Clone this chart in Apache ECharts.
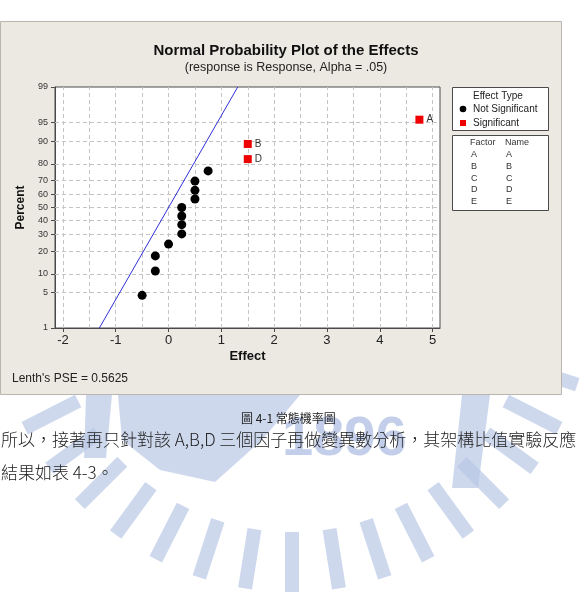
<!DOCTYPE html>
<html>
<head>
<meta charset="utf-8">
<script src="https://cdn.jsdelivr.net/npm/echarts@6/dist/echarts.min.js"></script>
<style>
  html, body { margin: 0; padding: 0; background: #fff; }
  #chart { width: 583px; height: 605px; }
</style>
</head>
<body>
<div id="chart"></div>
<script>
// effects, percent on the normal-probability scale
const notSigEffect = [-0.5, -0.25, -0.25, 0, 0.25, 0.25, 0.25, 0.25, 0.5, 0.5, 0.5, 0.75];
const notSigPct    = [4.5, 11, 17.5, 24, 30.5, 37, 43.5, 50, 56.5, 63, 69.5, 76];
const sigNames  = ['D', 'B', 'A'];
const sigEffect = [1.5, 1.5, 4.75];
const sigPct    = [82.5, 89, 95.5];
const refLineEffect = [-1.31, 1.31];
const refLinePct    = [1, 99];

const xTicks = [-2, -1, 0, 1, 2, 3, 4, 5];
const xGrid  = [-2, -1.5, -1, -0.5, 0, 0.5, 1, 1.5, 2, 2.5, 3, 3.5, 4, 4.5, 5];
const yTicks = [1, 5, 10, 20, 30, 40, 50, 60, 70, 80, 90, 95, 99];
const factors = ['A', 'B', 'C', 'D', 'E'];

// inverse normal cdf (Acklam) -> probability axis
function zOf(pct) {
  const p = pct / 100;
  const a = [-39.69683028665376, 220.9460984245205, -275.9285104469687, 138.3577518672690, -30.66479806614716, 2.506628277459239];
  const b = [-54.47609879822406, 161.5858368580409, -155.6989798598866, 66.80131188771972, -13.28068155288572];
  const c = [-0.007784894002430293, -0.3223964580411365, -2.400758276837607, -2.549671348254818, 4.374664141464968, 2.938163982698783];
  const d = [0.007784695709041462, 0.3224671290700398, 2.445134137142996, 3.754408661907416];
  const lo = 0.02425;
  if (p < lo) {
    const q = Math.sqrt(-2 * Math.log(p));
    return (((((c[0]*q+c[1])*q+c[2])*q+c[3])*q+c[4])*q+c[5]) / ((((d[0]*q+d[1])*q+d[2])*q+d[3])*q+1);
  }
  if (p > 1 - lo) {
    const q = Math.sqrt(-2 * Math.log(1 - p));
    return -(((((c[0]*q+c[1])*q+c[2])*q+c[3])*q+c[4])*q+c[5]) / ((((d[0]*q+d[1])*q+d[2])*q+d[3])*q+1);
  }
  const q = p - 0.5, r = q * q;
  return (((((a[0]*r+a[1])*r+a[2])*r+a[3])*r+a[4])*r+a[5])*q / (((((b[0]*r+b[1])*r+b[2])*r+b[3])*r+b[4])*r+1);
}

const yTickZ = yTicks.map(zOf);
const pctLabel = v => {
  const i = yTickZ.findIndex(z => Math.abs(z - v) < 1e-6);
  return i >= 0 ? String(yTicks[i]) : '';
};

const FONT = '"Liberation Sans", Arial, sans-serif';
const CJK = '"Noto Sans CJK TC", sans-serif';
const WM = '#b9c7e6';

// watermark behind the page text (decoration only)
const wmShapes = [];
for (let deg = 18; deg <= 162; deg += 9) {
  const t = deg * Math.PI / 180, cx = 292, cy = 292, r1 = 240, r2 = 300, w = 7;
  const dx = Math.cos(t), dy = Math.sin(t), nx = -dy, ny = dx;
  wmShapes.push({
    type: 'polygon', z: -20, silent: true,
    shape: { points: [
      [cx + r1*dx + w*nx, cy + r1*dy + w*ny], [cx + r2*dx + w*nx, cy + r2*dy + w*ny],
      [cx + r2*dx - w*nx, cy + r2*dy - w*ny], [cx + r1*dx - w*nx, cy + r1*dy - w*ny]] },
    style: { fill: WM, opacity: 0.7 }
  });
}
wmShapes.push(
  { type: 'polygon', z: -20, silent: true,
    shape: { points: [[118, 395], [300, 395], [262, 440], [215, 482], [160, 470], [122, 440]] },
    style: { fill: WM, opacity: 0.7 } },
  { type: 'polygon', z: -20, silent: true,
    shape: { points: [[86, 395], [112, 395], [106, 458], [84, 458]] },
    style: { fill: WM, opacity: 0.7 } },
  { type: 'polygon', z: -20, silent: true,
    shape: { points: [[462, 395], [490, 395], [478, 488], [452, 488]] },
    style: { fill: WM, opacity: 0.7 } }
);

const chart = echarts.init(document.getElementById('chart'));
chart.setOption({
  backgroundColor: '#ffffff',
  animation: false,
  textStyle: { fontFamily: FONT },
  title: {
    text: 'Normal Probability Plot of the Effects',
    subtext: '(response is Response, Alpha = .05)',
    left: 281, top: 38, textAlign: 'center', itemGap: 3,
    textStyle: { fontFamily: FONT, fontSize: 15, fontWeight: 'bold', color: '#111' },
    subtextStyle: { fontFamily: FONT, fontSize: 12.5, color: '#222' }
  },
  grid: {
    left: 55, top: 87, width: 385, height: 241,
    show: true, backgroundColor: '#ffffff', borderColor: '#4a4a4a', borderWidth: 1
  },
  xAxis: {
    type: 'value', min: -2.15, max: 5.14,
    name: 'Effect', nameLocation: 'middle', nameGap: 22,
    nameTextStyle: { fontFamily: FONT, fontSize: 13, fontWeight: 'bold', color: '#111' },
    axisLine: { onZero: false, lineStyle: { color: '#4a4a4a' } },
    axisTick: { customValues: xTicks, length: 4, lineStyle: { color: '#4a4a4a' } },
    axisLabel: { customValues: xTicks, margin: 6, fontSize: 13, color: '#222' },
    splitLine: { show: false }
  },
  yAxis: {
    type: 'value', min: zOf(1), max: zOf(99),
    name: 'Percent', nameLocation: 'middle', nameGap: 22,
    nameTextStyle: { fontFamily: FONT, fontSize: 12, fontWeight: 'bold', color: '#111' },
    axisLine: { onZero: false, lineStyle: { color: '#4a4a4a' } },
    axisTick: { customValues: yTickZ, length: 4, lineStyle: { color: '#4a4a4a' } },
    axisLabel: { customValues: yTickZ, formatter: pctLabel, margin: 7, fontSize: 9, color: '#333' },
    splitLine: { show: false }
  },
  series: [
    {
      name: 'ref', type: 'line', z: 3, symbol: 'none', clip: true,
      data: refLineEffect.map((x, i) => [x, zOf(refLinePct[i])]),
      lineStyle: { color: '#3030d8', width: 1 },
      markLine: {
        silent: true, symbol: 'none', z: 1, label: { show: false },
        lineStyle: { type: [4, 3], color: '#c4c4c4', width: 1 },
        data: xGrid.map(v => ({ xAxis: v }))
          .concat(yTicks.slice(1, -1).map(p => ({ yAxis: zOf(p) })))
      }
    },
    {
      name: 'Not Significant', type: 'scatter', z: 4, symbol: 'circle', symbolSize: 9,
      itemStyle: { color: '#000', opacity: 1 },
      data: notSigEffect.map((x, i) => [x, zOf(notSigPct[i])])
    },
    {
      name: 'Significant', type: 'scatter', z: 4, symbol: 'rect', symbolSize: 8,
      itemStyle: { color: '#ee0000', opacity: 1 },
      label: {
        show: true, position: 'right', distance: 3, fontSize: 10, color: '#333',
        formatter: p => sigNames[p.dataIndex]
      },
      data: sigEffect.map((x, i) => [x, zOf(sigPct[i])])
    }
  ],
  graphic: wmShapes.concat([
    { type: 'text', z: -19, silent: true, left: 282, top: 412,
      style: { text: '1896', font: 'bold 56px ' + FONT, fill: WM, opacity: 0.85 } },
    { type: 'rect', z: -10, shape: { x: 0.5, y: 21.5, width: 561, height: 373 },
      style: { fill: '#ece9e2', stroke: '#b9b6b0', lineWidth: 1 } },
    { type: 'text', z: 5, left: 12, top: 373,
      style: { text: "Lenth's PSE = 0.5625", font: '12px ' + FONT, fill: '#222' } },
    // effect type legend
    { type: 'rect', z: 5, shape: { x: 452.5, y: 87.5, width: 96, height: 43 },
      style: { fill: '#fff', stroke: '#4a4a4a', lineWidth: 1 } },
    { type: 'text', z: 6, left: 473, top: 91,
      style: { text: 'Effect Type', font: '10px ' + FONT, fill: '#222' } },
    { type: 'circle', z: 6, shape: { cx: 463, cy: 109, r: 3.3 }, style: { fill: '#000' } },
    { type: 'text', z: 6, left: 473, top: 104,
      style: { text: 'Not Significant', font: '10px ' + FONT, fill: '#222' } },
    { type: 'rect', z: 6, shape: { x: 460, y: 120, width: 6, height: 6 }, style: { fill: '#ee0000' } },
    { type: 'text', z: 6, left: 473, top: 118,
      style: { text: 'Significant', font: '10px ' + FONT, fill: '#222' } },
    // factor table
    { type: 'rect', z: 5, shape: { x: 452.5, y: 135.5, width: 96, height: 75 },
      style: { fill: '#fff', stroke: '#4a4a4a', lineWidth: 1 } },
    { type: 'text', z: 6, left: 470, top: 138,
      style: { text: 'Factor', font: '9px ' + FONT, fill: '#333' } },
    { type: 'text', z: 6, left: 505, top: 138,
      style: { text: 'Name', font: '9px ' + FONT, fill: '#333' } }
  ]).concat(factors.flatMap((f, i) => [
    { type: 'text', z: 6, left: 471, top: 150 + i * 11.8,
      style: { text: f, font: '9px ' + FONT, fill: '#333' } },
    { type: 'text', z: 6, left: 506, top: 150 + i * 11.8,
      style: { text: f, font: '9px ' + FONT, fill: '#333' } }
  ])).concat([
    { type: 'text', z: 6, left: 241, top: 412,
      style: { text: '圖 4-1 常態機率圖', font: '12px ' + CJK, fill: '#222' } },
    { type: 'text', z: 6, left: 1, top: 431,
      style: { text: '所以，接著再只針對該 A,B,D 三個因子再做變異數分析，其架構比值實驗反應', font: '300 17px ' + CJK, fill: '#222' } },
    { type: 'text', z: 6, left: 1, top: 464,
      style: { text: '結果如表 4-3。', font: '300 17px ' + CJK, fill: '#222' } }
  ])
});
</script>
</body>
</html>
